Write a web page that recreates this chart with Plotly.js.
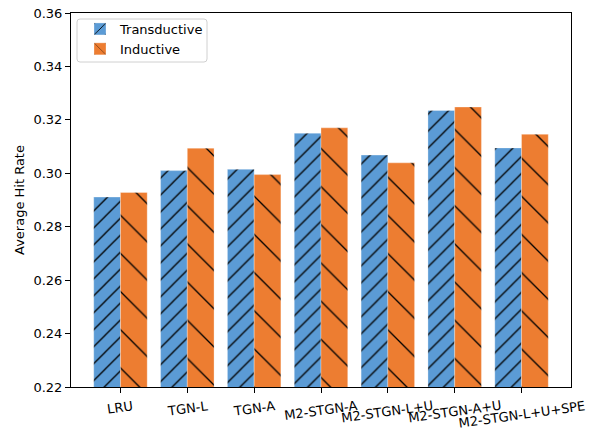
<!DOCTYPE html>
<html>
<head>
<meta charset="utf-8">
<script src="https://cdn.plot.ly/plotly-3.0.1.min.js"></script>
<style>
  html, body { margin: 0; padding: 0; background: #fff; }
  #chart { width: 600px; height: 430px; }
</style>
</head>
<body>
<div id="chart"></div>
<script>
// Average hit rate per model, transductive vs inductive setting
const models = ["LRU", "TGN-L", "TGN-A", "M2-STGN-A", "M2-STGN-L+U", "M2-STGN-A+U", "M2-STGN-L+U+SPE"];
const transductive = [0.2911, 0.3010, 0.3015, 0.3150, 0.3068, 0.3235, 0.3095];
const inductive    = [0.2928, 0.3094, 0.2995, 0.3170, 0.3039, 0.3248, 0.3146];
const yTicks = [0.22, 0.24, 0.26, 0.28, 0.30, 0.32, 0.34, 0.36];

const font = "DejaVu Sans, sans-serif";
const fontSize = 13;
const xIdx = models.map((_, i) => i);

// plot box in pixels (used to place paper-referenced decorations)
const W = 600, H = 430, M = { l: 71, r: 29, t: 13, b: 43 };
const PW = W - M.l - M.r, PH = H - M.t - M.b;
const px = x => (x - M.l) / PW;
const py = y => (H - M.b - y) / PH;

const traces = [
  {
    type: "bar", name: "Transductive", x: xIdx, y: transductive,
    marker: {
      color: "#5B9BD5",
      line: { color: "rgba(255,255,255,0.6)", width: 0.5 },
      pattern: { shape: "/", fgcolor: "#000", bgcolor: "#5B9BD5", size: 12, solidity: 0.11, fillmode: "replace" }
    }
  },
  {
    type: "bar", name: "Inductive", x: xIdx, y: inductive,
    marker: {
      color: "#ED7D31",
      line: { color: "rgba(255,255,255,0.6)", width: 0.5 },
      pattern: { shape: "\\", fgcolor: "#000", bgcolor: "#ED7D31", size: 27, solidity: 0.05, fillmode: "replace" }
    }
  }
];

// category labels, rotated a little and hung from a common top line
const labelAngle = 8;
const labelTop = 398;
const ctx = document.createElement("canvas").getContext("2d");
ctx.font = fontSize + "px 'DejaVu Sans'";
const rad = labelAngle * Math.PI / 180;
const labelAnnotations = models.map((m, i) => {
  const w = ctx.measureText(m).width;
  const rotH = w * Math.sin(rad) + 15 * Math.cos(rad);
  return {
    text: m, x: i, xref: "x", y: py(labelTop + rotH / 2), yref: "paper",
    xanchor: "center", yanchor: "middle", textangle: -labelAngle, showarrow: false,
    font: { family: font, size: fontSize, color: "#000" }
  };
});

// legend frame with rounded corners
function roundRect(x0, y0, x1, y1, r) {
  const rx = r / PW, ry = r / PH;
  const a = px(x0), b = px(x1), top = py(y0), bot = py(y1);
  return `M${a + rx},${top} L${b - rx},${top} Q${b},${top} ${b},${top - ry} ` +
         `L${b},${bot + ry} Q${b},${bot} ${b - rx},${bot} ` +
         `L${a + rx},${bot} Q${a},${bot} ${a},${bot + ry} ` +
         `L${a},${top - ry} Q${a},${top} ${a + rx},${top} Z`;
}

const layout = {
  width: W, height: H,
  margin: M,
  paper_bgcolor: "#fff", plot_bgcolor: "#fff",
  font: { family: font, size: fontSize, color: "#000" },
  barmode: "group", bargap: 0.2, bargroupgap: 0,
  showlegend: true,
  legend: {
    x: px(80), y: py(14), xanchor: "left", yanchor: "top",
    bgcolor: "rgba(0,0,0,0)", borderwidth: 0, tracegroupgap: 0,
    font: { family: font, size: fontSize, color: "#000" }
  },
  shapes: [{
    type: "path", xref: "paper", yref: "paper", layer: "above",
    path: roundRect(77, 19, 207, 62, 3),
    fillcolor: "rgba(255,255,255,0.8)", line: { color: "#d0d0d0", width: 1 }
  }],
  annotations: labelAnnotations,
  xaxis: {
    range: [-0.74, 6.74],
    tickmode: "array", tickvals: xIdx, showticklabels: false,
    ticks: "outside", ticklen: 5, tickwidth: 1, tickcolor: "#000",
    showline: true, linecolor: "#000", linewidth: 1, mirror: true,
    showgrid: false, zeroline: false
  },
  yaxis: {
    range: [0.22, 0.36],
    tickmode: "array", tickvals: yTicks, ticktext: yTicks.map(v => v.toFixed(2)),
    ticks: "outside", ticklen: 5, tickwidth: 1, tickcolor: "#000",
    showline: true, linecolor: "#000", linewidth: 1, mirror: true,
    showgrid: false, zeroline: false,
    tickfont: { family: font, size: fontSize, color: "#000" },
    title: { text: "Average Hit Rate", font: { family: font, size: fontSize, color: "#000" }, standoff: 5 }
  }
};

Plotly.newPlot("chart", traces, layout, { displayModeBar: false, staticPlot: true });
</script>
</body>
</html>
